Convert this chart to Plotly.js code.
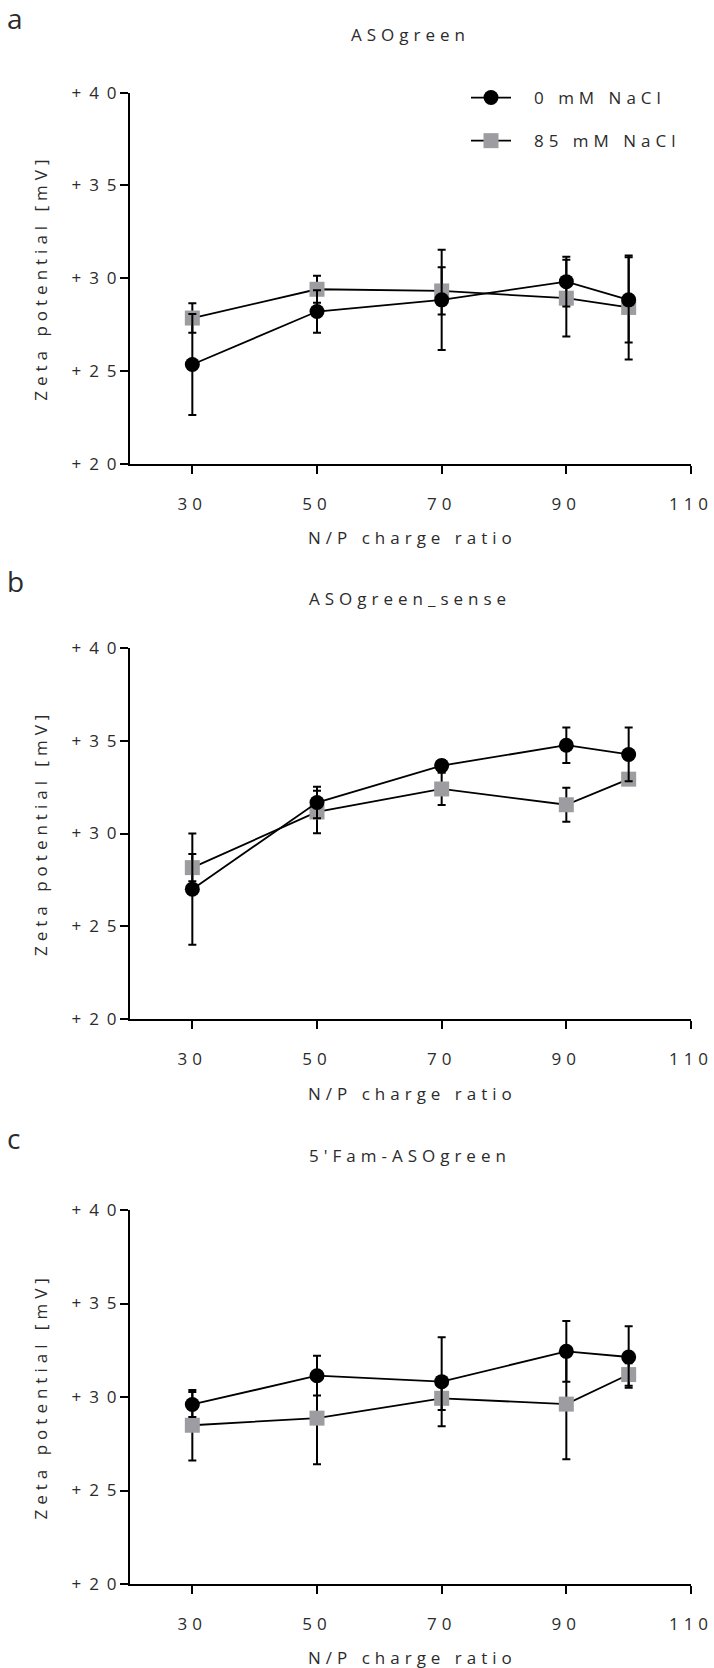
<!DOCTYPE html>
<html>
<head>
<meta charset="utf-8">
<script src="https://cdn.plot.ly/plotly-3.0.1.min.js"></script>
<style>
  html, body { margin: 0; padding: 0; background: #fff; }
  #chart { width: 714px; height: 1668px; }
  #chart svg text { letter-spacing: 5px; }
  #chart svg .ytick text, #chart svg .y2tick text, #chart svg .y3tick text { letter-spacing: 8px; }
  #chart svg text.panel-letter { letter-spacing: 0px; }
</style>
</head>
<body>
<div id="chart"></div>
<script>
// ---- data ----
const npRatio = [30, 50, 70, 90, 100];
const xTicks = [30, 50, 70, 90, 110];
const yTicks = [20, 25, 30, 35, 40];
const seriesNames = ["0 mM NaCl", "85 mM NaCl"];
const panelTitles = ["ASOgreen", "ASOgreen_sense", "5'Fam-ASOgreen"];
const panelLetters = ["a", "b", "c"];

// panel a: ASOgreen
const a_0mM = [25.36, 28.21, 28.84, 29.82, 28.84];
const a_0mM_err = [2.72, 1.14, 2.70, 1.34, 2.30];
const a_85mM = [27.86, 29.41, 29.32, 28.93, 28.43];
const a_85mM_err = [0.79, 0.73, 1.27, 2.07, 2.80];

// panel b: ASOgreen_sense
const b_0mM = [27.00, 31.67, 33.66, 34.76, 34.26];
const b_0mM_err = [3.00, 0.85, 0.30, 0.96, 1.45];
const b_85mM = [28.16, 31.16, 32.40, 31.55, 32.93];
const b_85mM_err = [0.73, 1.15, 0.87, 0.92, 0.20];

// panel c: 5'Fam-ASOgreen
const c_0mM = [29.60, 31.14, 30.82, 32.44, 32.14];
const c_0mM_err = [0.67, 1.06, 2.38, 1.63, 1.65];
const c_85mM = [28.49, 28.87, 29.93, 29.62, 31.20];
const c_85mM_err = [1.88, 2.47, 0.63, 2.95, 0.60];

const panels = [
  {s0: a_0mM, e0: a_0mM_err, s85: a_85mM, e85: a_85mM_err},
  {s0: b_0mM, e0: b_0mM_err, s85: b_85mM, e85: b_85mM_err},
  {s0: c_0mM, e0: c_0mM_err, s85: c_85mM, e85: c_85mM_err}
];

// ---- layout geometry (pixels) ----
const W = 714, H = 1668;
const plotLeft = 130, plotRight = 691;
const plotTops = [92.6, 648, 1210];
const plotBottoms = [464, 1019, 1584];

const FONT = "Open Sans, Noto Sans, sans-serif";
const TXT = "#2b2b2b";
const GREY = "#9d9da1";
const FS = 17;

const px = v => v / W;
const py = v => 1 - v / H;

const traces = [];
panels.forEach((p, i) => {
  const xa = i === 0 ? "x" : "x" + (i + 1);
  const ya = i === 0 ? "y" : "y" + (i + 1);
  traces.push({
    x: npRatio, y: p.s85, xaxis: xa, yaxis: ya,
    type: "scatter", mode: "lines+markers",
    name: seriesNames[1], legendgroup: "g85", legendrank: 2, showlegend: i === 0,
    line: {color: "#000", width: 1.8},
    marker: {symbol: "square", size: 15, color: GREY},
    error_y: {type: "data", array: p.e85, visible: true, color: "#000", thickness: 2, width: 4}
  });
  traces.push({
    x: npRatio, y: p.s0, xaxis: xa, yaxis: ya,
    type: "scatter", mode: "lines+markers",
    name: seriesNames[0], legendgroup: "g0", legendrank: 1, showlegend: i === 0,
    line: {color: "#000", width: 1.8},
    marker: {symbol: "circle", size: 15, color: "#000"},
    error_y: {type: "data", array: p.e0, visible: true, color: "#000", thickness: 2, width: 4}
  });
});

const layout = {
  width: W, height: H,
  margin: {l: 0, r: 0, t: 0, b: 0},
  paper_bgcolor: "#fff", plot_bgcolor: "#fff",
  font: {family: FONT, size: FS, color: TXT},
  showlegend: true,
  legend: {
    x: px(466), y: py(80), xanchor: "left", yanchor: "top",
    traceorder: "grouped", tracegroupgap: 18,
    font: {family: FONT, size: FS, color: TXT},
    bgcolor: "rgba(0,0,0,0)", itemwidth: 40
  },
  annotations: [],
  hovermode: false
};

const titleYs = [35, 598, 1155];
const letterYs = [18, 581, 1138];
const xTitleYs = [537, 1093, 1657];

panels.forEach((p, i) => {
  const sfx = i === 0 ? "" : String(i + 1);
  layout["xaxis" + sfx] = {
    domain: [px(plotLeft), px(plotRight)],
    anchor: "y" + sfx,
    range: [20, 110],
    tickmode: "array", tickvals: xTicks, ticktext: xTicks.map(String),
    ticks: "outside", ticklen: 8, tickwidth: 2, tickcolor: "#000",
    showline: true, linecolor: "#000", linewidth: 2,
    showgrid: false, zeroline: false, fixedrange: true,
    ticklabelstandoff: 16,
    tickfont: {family: FONT, size: FS, color: TXT}
  };
  layout["yaxis" + sfx] = {
    domain: [py(plotBottoms[i]), py(plotTops[i])],
    anchor: "x" + sfx,
    range: [20, 40],
    tickmode: "array", tickvals: yTicks, ticktext: yTicks.map(v => "+" + v),
    ticks: "outside", ticklen: 8, tickwidth: 2, tickcolor: "#000",
    showline: true, linecolor: "#000", linewidth: 2,
    showgrid: false, zeroline: false, fixedrange: true,
    ticklabelstandoff: 1,
    tickfont: {family: FONT, size: FS, color: TXT}
  };
  const midY = (plotTops[i] + plotBottoms[i]) / 2;
  const midX = (plotLeft + plotRight) / 2;
  layout.annotations.push(
    {xref: "paper", yref: "paper", x: px(midX), y: py(titleYs[i]), xanchor: "center", yanchor: "middle",
     text: panelTitles[i], showarrow: false, font: {family: FONT, size: FS, color: TXT}},
    {xref: "paper", yref: "paper", x: px(5), y: py(letterYs[i]), xanchor: "left", yanchor: "middle",
     text: panelLetters[i], showarrow: false, font: {family: FONT, size: 28, color: TXT}},
    {xref: "paper", yref: "paper", x: px(midX + 2), y: py(xTitleYs[i]), xanchor: "center", yanchor: "middle",
     text: "N/P charge ratio", showarrow: false, font: {family: FONT, size: FS, color: TXT}},
    {xref: "paper", yref: "paper", x: px(40), y: py(midY), xanchor: "center", yanchor: "middle",
     text: "Zeta potential [mV]", textangle: -90, showarrow: false, font: {family: FONT, size: FS, color: TXT}}
  );
});

Plotly.newPlot("chart", traces, layout, {displayModeBar: false, staticPlot: true}).then(() => {
  const root = document.getElementById("chart");
  root.querySelectorAll(".annotation-text").forEach(t => {
    if (panelLetters.includes(t.textContent)) t.classList.add("panel-letter");
  });
  // compensate trailing letter-spacing on right-anchored y tick labels
  root.querySelectorAll(".ytick text, .y2tick text, .y3tick text").forEach(t => t.setAttribute("dx", "9"));
  // let the wider (letter-spaced) legend text show in full and space it like the reference
  root.querySelectorAll(".legend [clip-path]").forEach(el => el.removeAttribute("clip-path"));
  root.querySelectorAll(".legend .legendtext").forEach(t => t.setAttribute("dx", "18"));
});
</script>
</body>
</html>
